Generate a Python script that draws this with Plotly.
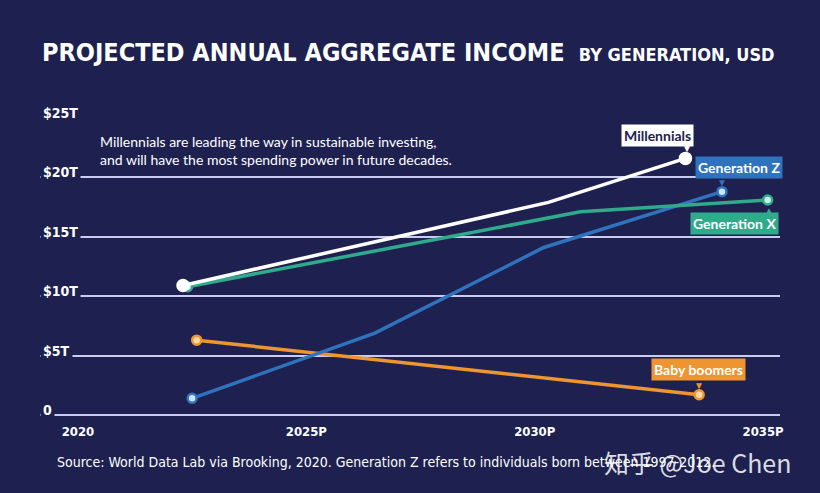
import plotly.graph_objects as go

# ---- data ----
mill_x = [2022.3, 2030.3, 2033.3]
mill_y = [10.9, 17.9, 21.6]
genz_x = [2022.5, 2026.5, 2030.2, 2034.1]
genz_y = [1.4, 6.9, 14.1, 18.8]
genx_x = [2022.4, 2031.0, 2035.1]
genx_y = [10.8, 17.1, 18.1]
boom_x = [2022.6, 2033.6]
boom_y = [6.3, 1.7]

x_ticks = [2020, 2025, 2030, 2035]
x_tick_labels = ["2020", "2025P", "2030P", "2035P"]
y_ticks = [0, 5, 10, 15, 20, 25]
y_tick_labels = ["0", "$5T", "$10T", "$15T", "$20T", "$25T"]

BG = "#1e2150"
GRID = "#c9cbef"
WHITE = "#ffffff"
BLUE = "#2f72bd"
GREEN = "#2fab8b"
ORANGE = "#ef952f"
NARROW = "DejaVu Sans Condensed, sans-serif"
BODY = "Lato, Open Sans, sans-serif"

fig = go.Figure()

def end_sizes(n, s):
    return [s] + [0] * (n - 2) + [s]

series = [
    (boom_x, boom_y, ORANGE, "#ffd9a6", 9),
    (genz_x, genz_y, BLUE, "#cfe2ff", 9),
    (genx_x, genx_y, GREEN, "#c8f2e4", 9),
    (mill_x, mill_y, WHITE, WHITE, 11),
]
for xs, ys, col, fill, s in series:
    fig.add_trace(go.Scatter(
        x=xs, y=ys, mode="lines+markers",
        line=dict(color=col, width=3.5),
        marker=dict(size=end_sizes(len(xs), s), color=fill, opacity=1,
                    line=dict(color=col, width=2.5)),
        cliponaxis=False, showlegend=False, hoverinfo="skip"))

# y tick labels (left-aligned, covering gridline start)
for v, lab in zip(y_ticks, y_tick_labels):
    fig.add_annotation(x=0, xref="paper", y=v, yref="y", text="<b>" + lab + "</b>",
                       showarrow=False, xanchor="left", yanchor="middle", yshift=5,
                       bgcolor=BG, borderpad=2,
                       font=dict(family=NARROW, size=14, color=WHITE))

# series labels
def label(x, y, text, bg, fg, xs, ys, ptr, pys, pxs=0):
    fig.add_annotation(x=x, y=y, text=ptr, showarrow=False, xshift=pxs, yshift=pys,
                       font=dict(size=10, color=bg))
    fig.add_annotation(x=x, y=y, text=text, showarrow=False, xshift=xs, yshift=ys,
                       bgcolor=bg, borderpad=2,
                       font=dict(family=BODY, size=14, color=fg))

label(mill_x[-1], mill_y[-1], "<b>Millennials</b>", WHITE, BG, -28, 23, "▼", 10, 2)
label(genz_x[-1], genz_y[-1], "<b>Generation Z</b>", BLUE, WHITE, 17, 24, "▼", 10)
label(genx_x[-1], genx_y[-1], "<b>Generation X</b>", GREEN, WHITE, -33, -24, "▲", -10, 1)
label(boom_x[-1], boom_y[-1], "<b>Baby boomers</b>", ORANGE, WHITE, -1, 25, "▼", 10)

# note
fig.add_annotation(x=0.078, y=0.892, xref="paper", yref="paper", xanchor="left", yanchor="middle",
                   align="left", showarrow=False,
                   text="Millennials are leading the way in sustainable investing,<br>"
                        "and will have the most spending power in future decades.",
                   font=dict(family=BODY, size=14, color=WHITE))

# title
fig.add_annotation(x=0, y=1.22, xref="paper", yref="paper", xanchor="left", yanchor="middle",
                   showarrow=False,
                   text="<b>PROJECTED ANNUAL AGGREGATE INCOME</b>  "
                        "<span style='font-size:18px'><b>BY GENERATION, USD</b></span>",
                   font=dict(family=NARROW, size=25, color=WHITE))

# source
fig.add_annotation(x=0.02, y=-0.158, xref="paper", yref="paper", xanchor="left", yanchor="middle",
                   showarrow=False,
                   text="Source: World Data Lab via Brooking, 2020. Generation Z refers to individuals born between 1997-2012.",
                   font=dict(family=NARROW, size=14, color=WHITE))
# watermark
fig.add_annotation(x=0.76, y=-0.158, xref="paper", yref="paper", xanchor="left", yanchor="middle",
                   showarrow=False, text="知乎 @Joe Chen",
                   font=dict(family="Noto Sans CJK SC, sans-serif", size=25, color="rgba(255,255,255,0.85)"))

fig.update_layout(
    width=820, height=493, margin=dict(l=40, r=40, t=118, b=78),
    paper_bgcolor=BG, plot_bgcolor=BG,
    xaxis=dict(range=[2019.17, 2035.37], tickvals=x_ticks,
               ticktext=["<b>" + t + "</b>" for t in x_tick_labels],
               showgrid=False, zeroline=False, showline=False,
               ticks="outside", ticklen=4, tickcolor="rgba(0,0,0,0)",
               tickfont=dict(family=NARROW, size=13, color=WHITE)),
    yaxis=dict(range=[0, 25], tickvals=y_ticks, showticklabels=False,
               showgrid=True, gridcolor=GRID, gridwidth=1.5,
               zeroline=True, zerolinecolor=GRID, zerolinewidth=1.5, showline=False),
)

fig.write_html("out.html")
